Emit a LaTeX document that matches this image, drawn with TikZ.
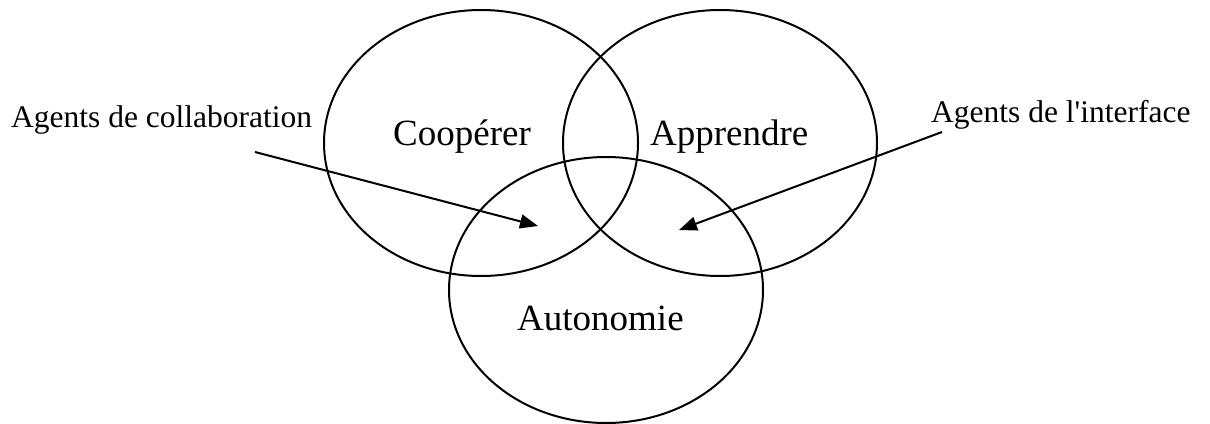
\documentclass[tikz,border=0pt]{standalone}
\usepackage{fontspec}
\setmainfont{Liberation Serif}
\newfontfamily\tnr{Liberation Serif}
\usetikzlibrary{shapes.geometric,arrows.meta}
\begin{document}
\begin{tikzpicture}[x=1pt,y=-1pt,
  circ/.style={draw, ellipse, line width=2pt, minimum width=314pt, minimum height=266pt, inner sep=0pt},
  bigtxt/.style={anchor=base west, inner sep=0pt, font=\tnr\fontsize{37}{40}\selectfont},
  smalltxt/.style={anchor=base west, inner sep=0pt, font=\tnr\fontsize{31.5}{34}\selectfont},
  arr/.style={line width=2pt, -{Triangle[length=18pt,width=14pt]}}]
\useasboundingbox (0,0) rectangle (1210,423);
\node[circ] (coop) at (481,143) {};
\node[circ] (appr) at (720,143) {};
\node[circ] (auto) at (606,290) {};
\node[bigtxt] (tcoop) at (393,145) {Coopérer};
\node[bigtxt] (tappr) at (650,145) {Apprendre};
\node[bigtxt] (tauto) at (517,330) {Autonomie};
\node[smalltxt] (lcol) at (11,127) {Agents de collaboration};
\node[smalltxt] (lint) at (931,122) {Agents de l'interface};
\coordinate (scol) at (255,152);
\coordinate (ecol) at (538,226);
\coordinate (sint) at (942,132);
\coordinate (eint) at (679,230);
\draw[arr] (scol) -- (ecol);
\draw[arr] (sint) -- (eint);
\end{tikzpicture}
\end{document}
